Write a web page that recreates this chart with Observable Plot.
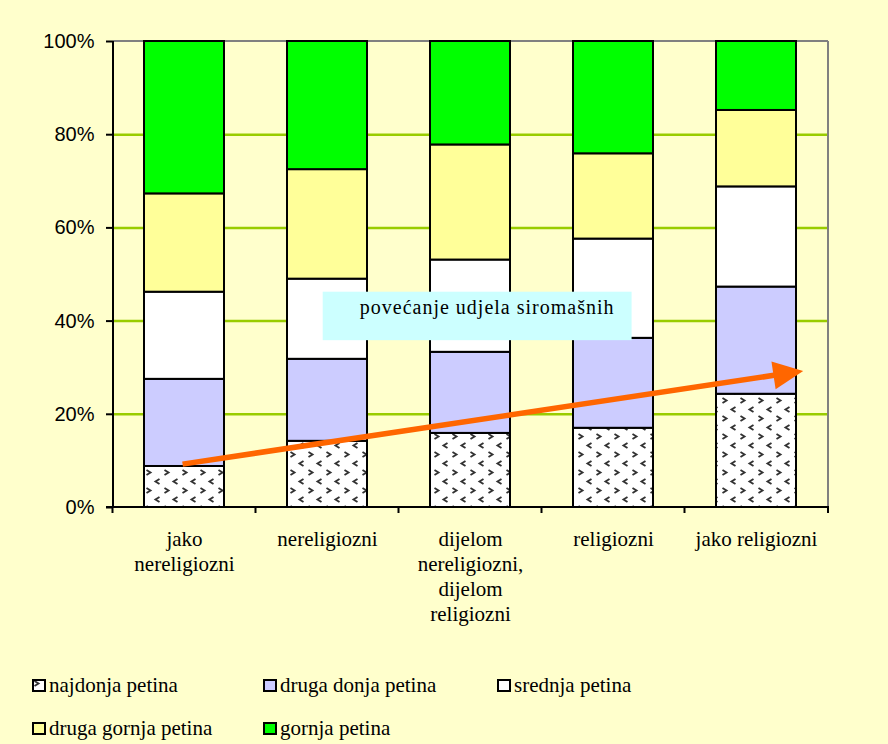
<!DOCTYPE html>
<html><head><meta charset="utf-8">
<script src="https://cdn.jsdelivr.net/npm/d3@7"></script>
<script src="https://cdn.jsdelivr.net/npm/@observablehq/plot@0.6"></script>
<style>
html,body{margin:0;padding:0;background:#ffffcc;}
#wrap{position:relative;width:888px;height:744px;overflow:hidden;background:#ffffcc;}
#chart{position:absolute;left:0;top:0;}
.leg{position:absolute;height:24px;font-family:"Liberation Serif","Times New Roman",serif;font-size:21px;color:#000;display:flex;align-items:center;white-space:nowrap;}
.leg svg{margin-right:3px;}
</style></head><body>
<svg width="0" height="0" style="position:absolute">
<defs>
<pattern id="pat" width="18" height="18" patternUnits="userSpaceOnUse">
<rect width="18" height="18" fill="#fff"/>
<path d="M2.5,2 L6.5,4.5 L2.5,7" fill="none" stroke="#333" stroke-width="1.9"/>
<path d="M15.5,11 L11.5,13.5 L15.5,16" fill="none" stroke="#333" stroke-width="1.9"/>
</pattern>
</defs></svg>
<div id="wrap"><div id="chart"></div></div>
<script>
const categories = ["jako nereligiozni","nereligiozni","dijelom nereligiozni, dijelom religiozni","religiozni","jako religiozni"];
const categoryLabels = ["jako\nnereligiozni","nereligiozni","dijelom\nnereligiozni,\ndijelom\nreligiozni","religiozni","jako religiozni"];
const series = ["najdonja petina","druga donja petina","srednja petina","druga gornja petina","gornja petina"];
const najdonja    = [8.8, 14.2, 15.9, 17.0, 24.3];
const drugaDonja  = [18.7, 17.6, 17.4, 19.3, 23.0];
const srednja     = [18.7, 17.2, 19.8, 21.3, 21.5];
const drugaGornja = [21.1, 23.5, 24.7, 18.3, 16.4];
const gornja      = [32.7, 27.5, 22.2, 24.1, 14.8];
const yTicks = [0, 20, 40, 60, 80, 100];
const gridTicks = [20, 40, 60, 80];
const seriesColors = ["url(#pat)", "#ccccff", "#ffffff", "#ffff99", "#00ff00"];
const noteText = "povećanje udjela siromašnih";
// annotation anchors (category, fraction of band step, percent)
const arrowFrom = {category: "jako nereligiozni", shift: -0.01, value: 9.2};
const arrowTo   = {category: "jako religiozni",   shift: 0.33,  value: 29.2};
const noteBox   = {from: "nereligiozni", fromShift: -0.03, to: "religiozni", toShift: 0.13, top: 46.2, bottom: 35.8};

const valuesBySeries = [najdonja, drugaDonja, srednja, drugaGornja, gornja];
const rows = [];
series.forEach((s, si) => categories.forEach((c, ci) => rows.push({series: s, category: c, value: valuesBySeries[si][ci]})));

function bandInfo(x) {
  const bw = typeof x.bandwidth === "function" ? x.bandwidth() : x.bandwidth;
  const step = x(categories[1]) - x(categories[0]);
  return {bw, step, center: c => x(c) + bw / 2};
}

function frameMark(index, scales, values, dim) {
  const {x, y} = scales;
  const L = dim.marginLeft, R = dim.width - dim.marginRight;
  const g = d3.create("svg:g");
  g.append("line").attr("x1", L).attr("x2", R).attr("y1", y(100)).attr("y2", y(100)).attr("stroke", "#808080").attr("stroke-width", 2);
  g.append("line").attr("x1", R).attr("x2", R).attr("y1", y(100)).attr("y2", y(0)).attr("stroke", "#808080").attr("stroke-width", 2);
  return g.node();
}

function axesMark(index, scales, values, dim) {
  const {x, y} = scales;
  const {bw, step} = bandInfo(x);
  const L = dim.marginLeft, R = dim.width - dim.marginRight;
  const g = d3.create("svg:g").attr("stroke", "#000").attr("stroke-width", 2);
  g.append("line").attr("x1", L).attr("x2", L).attr("y1", y(100)).attr("y2", y(0) + 1);
  g.append("line").attr("x1", L - 7).attr("x2", R + 1).attr("y1", y(0)).attr("y2", y(0));
  const bounds = categories.map(c => x(c) - (step - bw) / 2);
  bounds.push(R);
  bounds.forEach(b => g.append("line").attr("x1", b).attr("x2", b).attr("y1", y(0)).attr("y2", y(0) + 6));
  return g.node();
}

function noteMark(index, scales, values, dim) {
  const {x, y} = scales;
  const {step, center} = bandInfo(x);
  const x0 = center(noteBox.from) + noteBox.fromShift * step;
  const x1 = center(noteBox.to) + noteBox.toShift * step;
  const y0 = y(noteBox.top), y1 = y(noteBox.bottom);
  const g = d3.create("svg:g");
  g.append("rect").attr("x", x0).attr("y", y0).attr("width", x1 - x0).attr("height", y1 - y0).attr("fill", "#ccffff");
  g.append("text").attr("x", (x0 + x1) / 2 + 10).attr("y", y0 + 22).attr("text-anchor", "middle")
    .attr("font-family", "Liberation Serif, Times New Roman, serif").attr("font-size", 20).attr("letter-spacing", 1)
    .attr("fill", "#000").text(noteText);
  return g.node();
}

function arrowMark(index, scales, values, dim) {
  const {x, y} = scales;
  const {step, center} = bandInfo(x);
  const sx = center(arrowFrom.category) + arrowFrom.shift * step, sy = y(arrowFrom.value);
  const tx = center(arrowTo.category) + arrowTo.shift * step, ty = y(arrowTo.value);
  const dx = tx - sx, dy = ty - sy, len = Math.hypot(dx, dy);
  const ux = dx / len, uy = dy / len, nx = -uy, ny = ux;
  const headL = 30, headW = 14;
  const bx = tx - ux * headL, by = ty - uy * headL;
  const g = d3.create("svg:g");
  g.append("line").attr("x1", sx).attr("y1", sy).attr("x2", bx + ux * 2).attr("y2", by + uy * 2)
    .attr("stroke", "#ff6600").attr("stroke-width", 5.5);
  g.append("polygon").attr("points", [[tx, ty], [bx + nx * headW, by + ny * headW], [bx - nx * headW, by - ny * headW]].map(p => p.join(",")).join(" "))
    .attr("fill", "#ff6600");
  return g.node();
}

const chart = Plot.plot({
  width: 888,
  height: 640,
  marginTop: 41,
  marginBottom: 133,
  marginLeft: 113,
  marginRight: 60,
  style: {background: "transparent", overflow: "visible"},
  x: {domain: categories, paddingInner: 0.44, paddingOuter: 0.22, axis: null, label: null},
  y: {domain: [0, 100], axis: null, label: null},
  color: {domain: series, range: seriesColors},
  marks: [
    Plot.ruleY(gridTicks, {stroke: "#99cc00", strokeWidth: 2.5}),
    frameMark,
    Plot.barY(rows, {x: "category", y: "value", fill: "series", stroke: "#000", strokeWidth: 2}),
    axesMark,
    Plot.axisY(yTicks, {label: null, tickFormat: d => d + "%", tickSize: 7, tickPadding: 12, fontSize: 20,
      fontFamily: "Liberation Sans, Arial, sans-serif", stroke: "#000", strokeWidth: 2, fill: "#000"}),
    Plot.axisX({label: null, tickSize: 0, tickPadding: 21, fontSize: 21, lineHeight: 1.19, fill: "#000",
      fontFamily: "Liberation Serif, Times New Roman, serif", tickFormat: d => categoryLabels[categories.indexOf(d)]}),
    noteMark,
    arrowMark
  ]
});
document.getElementById("chart").appendChild(chart);

// legend
const legCols = [32, 263, 497];
const legRows = [685, 728];
const wrap = document.getElementById("wrap");
series.forEach((s, i) => {
  const div = document.createElement("div");
  div.className = "leg";
  div.style.left = legCols[i % 3] + "px";
  div.style.top = (legRows[Math.floor(i / 3)] - 12) + "px";
  div.innerHTML = `<svg width="14" height="13"><rect x="1" y="1" width="12" height="11" fill="${seriesColors[i]}" stroke="#000" stroke-width="2"/></svg>`;
  div.appendChild(document.createTextNode(s));
  wrap.appendChild(div);
});
</script>
</body></html>
